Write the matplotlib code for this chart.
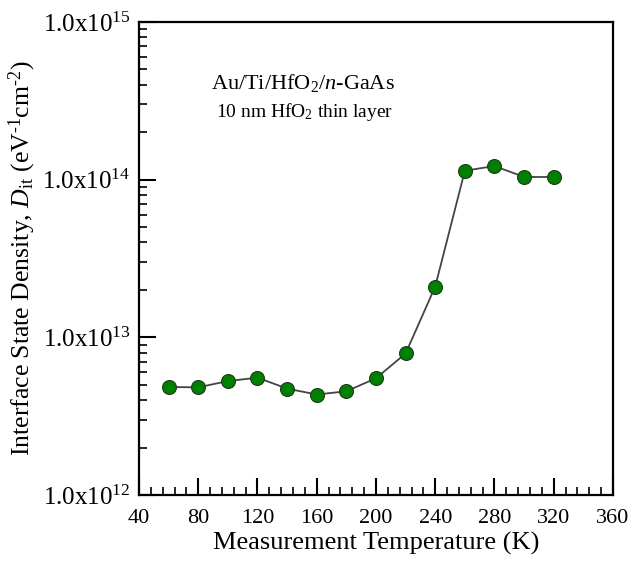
import numpy as np
import matplotlib
matplotlib.use('Agg')
import matplotlib.pyplot as plt
from matplotlib.ticker import FixedLocator, MultipleLocator, LogLocator, FuncFormatter, NullFormatter

plt.rcParams['font.family'] = ['Liberation Serif', 'DejaVu Serif']
plt.rcParams['mathtext.fontset'] = 'custom'
plt.rcParams['mathtext.rm'] = 'Liberation Serif'
plt.rcParams['mathtext.it'] = 'Liberation Serif:italic'
plt.rcParams['mathtext.bf'] = 'Liberation Serif:bold'

# 数据
temperature = [60, 80, 100, 120, 140, 160, 180, 200, 220, 240, 260, 280, 300, 320]
dit = [4.84e12, 4.82e12, 5.28e12, 5.55e12, 4.73e12, 4.34e12, 4.55e12, 5.5e12,
       7.9e12, 2.1e13, 1.14e14, 1.22e14, 1.04e14, 1.04e14]
x_ticks = [40, 80, 120, 160, 200, 240, 280, 320, 360]
y_ticks = [1e12, 1e13, 1e14, 1e15]

fig = plt.figure(figsize=(6.3, 5.61), dpi=100)
ax = fig.add_axes([0.2206, 0.1176, 0.7524, 0.8432])

ax.plot(temperature, dit, color='#444444', linewidth=1.3, marker='o',
        markersize=10, markerfacecolor='#008000', markeredgecolor='#1a3a1a',
        markeredgewidth=0.8)

ax.set_yscale('log')
ax.set_xlim(40, 360)
ax.set_ylim(1e12, 1e15)

ax.xaxis.set_major_locator(FixedLocator(x_ticks))
ax.xaxis.set_minor_locator(MultipleLocator(8))
ax.yaxis.set_major_locator(FixedLocator(y_ticks))
ax.yaxis.set_minor_locator(LogLocator(base=10, subs=np.arange(2, 10)))
ax.yaxis.set_minor_formatter(NullFormatter())
ax.yaxis.set_major_formatter(FuncFormatter(lambda v, p: r'1.0x10$^{%d}$' % round(np.log10(v))))

ax.tick_params(axis='both', which='major', direction='in', length=12, width=1.5,
               top=False, right=False)
ax.tick_params(axis='both', which='minor', direction='in', length=6, width=1.2,
               top=False, right=False)
ax.tick_params(axis='y', which='major', pad=6, labelsize=18)
ax.tick_params(axis='x', which='major', pad=10, labelsize=16)

for s in ax.spines.values():
    s.set_linewidth(1.6)

ax.set_xlabel('Measurement Temperature (K)', fontsize=19, labelpad=3)
ax.set_ylabel('Interface State Density, $\\mathit{D}_{\\rm it}$ (eV$^{\u20101}$cm$^{\u20102}$)',
              fontsize=18.5, labelpad=3)

ax.text(0.346, 0.871, r'Au/Ti/HfO$_2$/$\mathit{n}$-GaAs', transform=ax.transAxes,
        ha='center', va='center', fontsize=16)
ax.text(0.35, 0.81, r'10 nm HfO$_2$ thin layer', transform=ax.transAxes,
        ha='center', va='center', fontsize=14)

plt.savefig('out.png', dpi=100)
